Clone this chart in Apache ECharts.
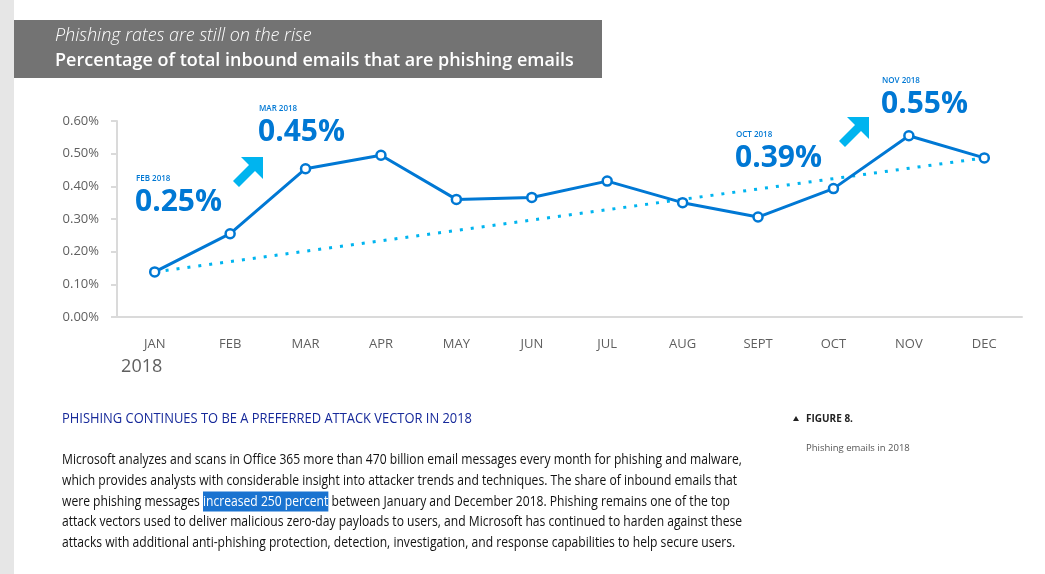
<!DOCTYPE html>
<html>
<head>
<meta charset="utf-8">
<script src="https://cdn.jsdelivr.net/npm/echarts@6/dist/echarts.min.js"></script>
<style>
  html, body { margin: 0; padding: 0; background: #fff; }
  #chart { width: 1045px; height: 574px; }
</style>
</head>
<body>
<div id="chart"></div>
<script>
var months = ['JAN', 'FEB', 'MAR', 'APR', 'MAY', 'JUN', 'JUL', 'AUG', 'SEPT', 'OCT', 'NOV', 'DEC'];
var phishingRate = [0.138, 0.255, 0.454, 0.495, 0.36, 0.366, 0.416, 0.35, 0.306, 0.393, 0.555, 0.487];
// trend line only has its two end points, drawn straight between them
var trendRate = [0.138, null, null, null, null, null, null, null, null, null, null, 0.487];
var yearLabel = '2018';

var calloutMonths = ['FEB 2018', 'MAR 2018', 'OCT 2018', 'NOV 2018'];
var calloutValues = ['0.25%', '0.45%', '0.39%', '0.55%'];

var titleTop = 'Phishing rates are still on the rise';
var titleMain = 'Percentage of total inbound emails that are phishing emails';
var sectionHead = 'PHISHING CONTINUES TO BE A PREFERRED ATTACK VECTOR IN 2018';
var bodyLines = [
    'Microsoft analyzes and scans in Office 365 more than 470 billion email messages every month for phishing and malware,',
    'which provides analysts with considerable insight into attacker trends and techniques. The share of inbound emails that',
    ['were phishing messages ', 'increased 250 percent', ' between January and December 2018. Phishing remains one of the top'],
    'attack vectors used to deliver malicious zero-day payloads to users, and Microsoft has continued to harden against these',
    'attacks with additional anti-phishing protection, detection, investigation, and response capabilities to help secure users.'
];
var figureLabel = 'FIGURE 8.';
var figureCaption = 'Phishing emails in 2018';

var blue = '#0078d4';
var cyan = '#00b4ef';

var measureCtx = document.createElement('canvas').getContext('2d');
function textWidth(text, font) {
    measureCtx.font = font;
    return measureCtx.measureText(text).width;
}

var bodyFont = '14px "Open Sans"';
var bodyScale = 680 / textWidth(bodyLines[0], bodyFont);
var headFont = '14px "Open Sans"';
var headScale = 410 / textWidth(sectionHead, headFont);

function arrow(tipX, tipY) {
    return {
        type: 'polygon',
        x: tipX, y: tipY,
        shape: {
            points: [[0, 0], [-22, 0], [-14, 8], [-30, 24], [-24, 30], [-8, 14], [0, 22]]
        },
        style: { fill: cyan }
    };
}

function callout(i, x, y) {
    return [
        {
            type: 'text', x: x, y: y,
            style: { text: calloutMonths[i], font: '600 8px "Open Sans"', fill: blue, textVerticalAlign: 'middle' }
        },
        {
            type: 'text', x: x - 1, y: y + 23,
            style: { text: calloutValues[i], font: 'bold 30px "Open Sans"', fill: blue, textVerticalAlign: 'middle' }
        }
    ];
}

var graphics = [
    { type: 'rect', shape: { x: 0, y: 0, width: 14, height: 574 }, style: { fill: '#e6e6e6' } },
    { type: 'rect', shape: { x: 14, y: 20, width: 588, height: 58 }, style: { fill: '#737373' } },
    {
        type: 'text', x: 55, y: 36,
        style: { text: titleTop, font: 'italic 300 18px "Open Sans"', fill: '#fff', textVerticalAlign: 'middle' }
    },
    {
        type: 'text', x: 55, y: 61,
        style: { text: titleMain, font: '600 18px "Open Sans"', fill: '#fff', textVerticalAlign: 'middle' }
    },
    arrow(263, 157),
    arrow(869, 117),
    {
        type: 'text', x: 62, y: 419, scaleX: headScale,
        style: { text: sectionHead, font: headFont, fill: '#16299a', textVerticalAlign: 'middle' }
    },
    {
        type: 'polygon', shape: { points: [[793, 421], [799, 421], [796, 416]] }, style: { fill: '#222' }
    },
    {
        type: 'text', x: 806, y: 419,
        style: { text: figureLabel, font: 'bold 10px "Open Sans"', fill: '#222', textVerticalAlign: 'middle' }
    },
    {
        type: 'text', x: 806, y: 448,
        style: { text: figureCaption, font: '9.5px "Open Sans"', fill: '#555', textVerticalAlign: 'middle' }
    }
];
graphics = graphics.concat(callout(0, 136, 179), callout(1, 259, 109), callout(2, 736, 135), callout(3, 882, 81));

bodyLines.forEach(function (line, i) {
    var txt, rich = {};
    if (Array.isArray(line)) {
        txt = '{n|' + line[0] + '}{h|' + line[1] + '}{n|' + line[2] + '}';
        rich = {
            n: { font: bodyFont, fill: '#111' },
            h: { font: bodyFont, fill: '#fff', backgroundColor: '#1a73d0', padding: [3, 0, 3, 0] }
        };
    } else {
        txt = line;
    }
    graphics.push({
        type: 'text', x: 62, y: 460 + i * 20.8, scaleX: bodyScale,
        style: { text: txt, font: bodyFont, fill: '#111', textVerticalAlign: 'middle', rich: rich }
    });
});

var option = {
    animation: false,
    grid: { left: 117, right: 23, top: 121, bottom: 257 },
    xAxis: {
        type: 'category',
        data: months,
        boundaryGap: true,
        axisLine: { lineStyle: { color: '#dadada', width: 2 } },
        axisTick: { alignWithLabel: true, length: 5, lineStyle: { color: '#dadada', width: 2 } },
        axisLabel: {
            margin: 19,
            interval: 0,
            verticalAlign: 'top',
            formatter: function (v, idx) {
                return idx === 0 ? '{m|' + v + '}\n{y|' + yearLabel + '}' : '{m|' + v + '}';
            },
            rich: {
                m: { fontFamily: 'Open Sans', fontSize: 13, color: '#5f5f5f', lineHeight: 16 },
                y: { fontFamily: 'Open Sans', fontSize: 18, color: '#5f5f5f', lineHeight: 30, padding: [0, 26, 0, 0] }
            }
        }
    },
    yAxis: {
        type: 'value',
        min: 0,
        max: 0.6,
        interval: 0.1,
        splitLine: { show: false },
        axisLine: { show: true, lineStyle: { color: '#dadada', width: 2 } },
        axisTick: { show: true, length: 6, lineStyle: { color: '#dadada', width: 2 } },
        axisLabel: {
            margin: 18,
            color: '#5f5f5f',
            fontFamily: 'Open Sans',
            fontSize: 13,
            formatter: function (v) { return v.toFixed(2) + '%'; }
        }
    },
    series: [
        {
            name: 'Trend',
            type: 'line',
            data: trendRate,
            connectNulls: true,
            symbol: 'none',
            z: 1,
            lineStyle: { color: cyan, width: 3, type: [3, 8] }
        },
        {
            name: 'Phishing rate',
            type: 'line',
            data: phishingRate,
            symbol: 'circle',
            symbolSize: 9,
            z: 3,
            lineStyle: { color: blue, width: 3 },
            itemStyle: { color: '#fff', borderColor: blue, borderWidth: 2.5 }
        }
    ],
    graphic: graphics
};

window.onload = function () {
    var chart = echarts.init(document.getElementById('chart'));
    chart.setOption(option);
};
</script>
</body>
</html>
